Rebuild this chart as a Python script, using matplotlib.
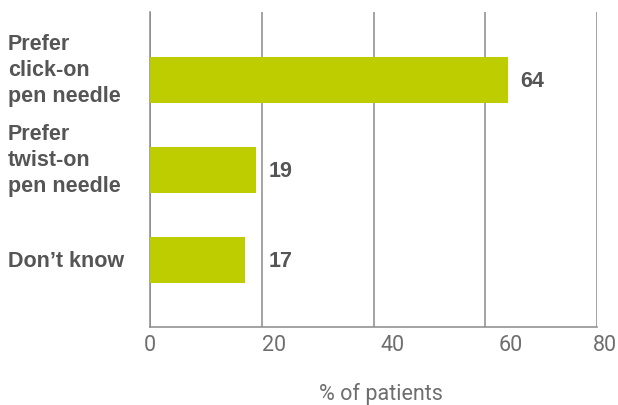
import matplotlib
matplotlib.use("Agg")
import matplotlib.pyplot as plt
from matplotlib.transforms import blended_transform_factory, ScaledTranslation

categories = ["Prefer\nclick-on\npen needle", "Prefer\ntwist-on\npen needle", "Don\u2019t know"]
values = [64, 19, 17]
xticks = [0, 20, 40, 60, 80]
xlabel = "% of patients"

plt.rcParams['font.family'] = ['Liberation Sans', 'DejaVu Sans']

W, H = 618, 406
fig = plt.figure(figsize=(W / 100, H / 100), dpi=100)
ax = fig.add_axes([150 / W, (H - 328) / H, (597 - 150) / W, (328 - 13) / H])

bar_color = "#BDCD00"
text_color = "#555555"
grid_color = "#8a8a8a"
light_color = "#6e6e6e"

ypos = list(range(len(categories)))
ax.barh(ypos, values, height=0.51, color=bar_color, zorder=3)

ax.set_xlim(0, 80)
ax.set_ylim(2.744, -0.756)
ax.set_xticks(xticks)
ax.set_xticklabels([str(t) for t in xticks], fontsize=15.5, color=light_color,
                   family=['Roboto', 'Liberation Sans'], fontweight='normal')
ax.set_yticks([])
ax.tick_params(axis='x', length=0, pad=5)
ax.grid(axis='x', color=grid_color, linewidth=1.1, zorder=1)
for s in ['top', 'right']:
    ax.spines[s].set_visible(False)
for s in ['left', 'bottom']:
    ax.spines[s].set_color(grid_color)
    ax.spines[s].set_linewidth(1.1)

# reference tick labels are shifted right of their gridlines
label_shift_px = [0, 12.5, 19, 25, 8]
for lbl, dx in zip(ax.get_xticklabels(), label_shift_px):
    lbl.set_transform(lbl.get_transform() + ScaledTranslation(dx / 100, 0, fig.dpi_scale_trans))

trans = blended_transform_factory(fig.transFigure, ax.transData)
for y, lab in zip(ypos, categories):
    off = -0.12 if "\n" in lab else 0.0
    ax.text(8 / W, y + off, lab, transform=trans, ha='left', va='center',
            fontsize=15.5, fontweight='bold', color=text_color, linespacing=1.3)

for y, v in zip(ypos, values):
    ax.annotate(str(v), xy=(max(v, 19), y), xytext=(9, 0), textcoords='offset points',
                ha='left', va='center', fontsize=15.5, fontweight='bold', color=text_color)

fig.text(381 / W, 1 - 394 / H, xlabel, ha='center', va='center', fontsize=15.5,
         color=light_color, family=['Roboto', 'Liberation Sans'], fontweight='normal')

fig.savefig("out.png", dpi=100)
